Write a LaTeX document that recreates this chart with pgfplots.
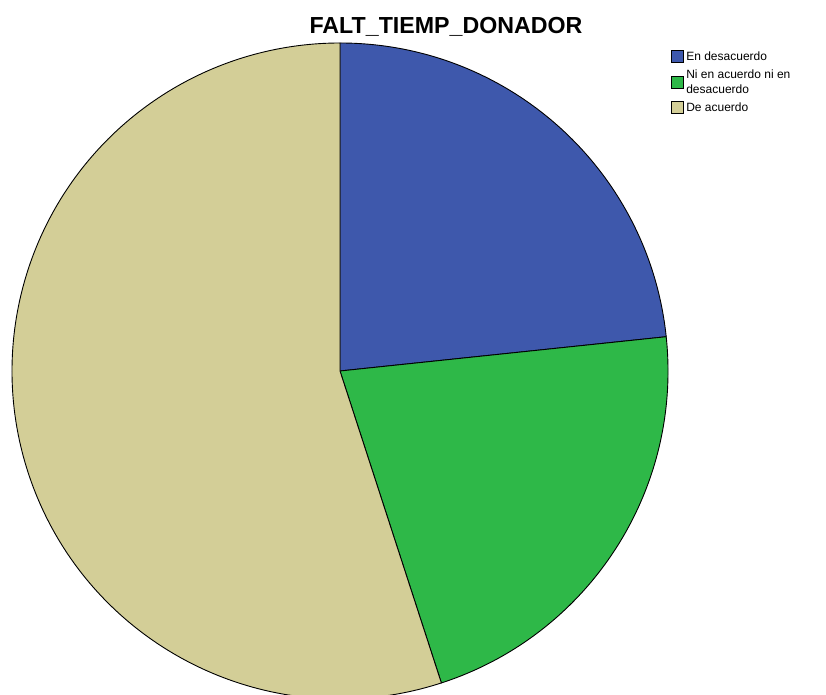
\documentclass[border=0pt]{standalone}
\usepackage{pgfplots}
\pgfplotsset{compat=1.18}
\usepackage{fontspec}
\setmainfont{Liberation Sans}
\definecolor{spssblue}{HTML}{3E58AC}
\definecolor{spssgreen}{HTML}{2EB848}
\definecolor{spssbeige}{HTML}{D3CE97}
% counts per category (n = 60)
\def\vA{14}% En desacuerdo
\def\vB{13}% Ni en acuerdo ni en desacuerdo
\def\vC{33}% De acuerdo
\begin{document}
\begin{tikzpicture}
\useasboundingbox (0,0) rectangle (826pt,695pt);
\pgfmathsetmacro\tot{\vA+\vB+\vC}
\pgfmathsetmacro\aA{90}
\pgfmathsetmacro\aB{\aA-360*\vA/\tot}
\pgfmathsetmacro\aC{\aB-360*\vB/\tot}
\pgfmathsetmacro\aD{\aC-360*\vC/\tot}
\begin{axis}[
  at={(0pt,0pt)}, anchor=south west,
  x=1pt, y=1pt, disabledatascaling,
  xmin=0, xmax=826, ymin=0, ymax=695,
  hide axis,
  legend image code/.code={\draw[#1, line width=0.6pt] (0pt,-6pt) rectangle (12pt,6pt);},
  legend cell align=left,
  legend style={at={(axis cs:671,646)}, anchor=north west, draw=none, fill=none,
    inner sep=0pt, row sep=2.5pt,
    nodes={font=\fontsize{12}{15.5}\selectfont, align=left, inner sep=2.5pt}},
]
\addlegendimage{fill=spssblue, draw=black}
\addlegendentry{En desacuerdo}
\addlegendimage{fill=spssgreen, draw=black}
\addlegendentry{Ni en acuerdo ni en\\desacuerdo}
\addlegendimage{fill=spssbeige, draw=black}
\addlegendentry{De acuerdo}
\filldraw[fill=spssblue, draw=black, line width=0.9pt, line join=round]
  (axis cs:340,324) -- ([shift={(\aA:328pt)}]axis cs:340,324) arc[start angle=\aA, end angle=\aB, radius=328pt] -- cycle;
\filldraw[fill=spssgreen, draw=black, line width=0.9pt, line join=round]
  (axis cs:340,324) -- ([shift={(\aB:328pt)}]axis cs:340,324) arc[start angle=\aB, end angle=\aC, radius=328pt] -- cycle;
\filldraw[fill=spssbeige, draw=black, line width=0.9pt, line join=round]
  (axis cs:340,324) -- ([shift={(\aC:328pt)}]axis cs:340,324) arc[start angle=\aC, end angle=\aD, radius=328pt] -- cycle;
\node[anchor=base, font=\bfseries\fontsize{23.2}{27}\selectfont, inner sep=0pt] at (axis cs:446,661) {FALT\_TIEMP\_DONADOR};
\end{axis}
\end{tikzpicture}
\end{document}
